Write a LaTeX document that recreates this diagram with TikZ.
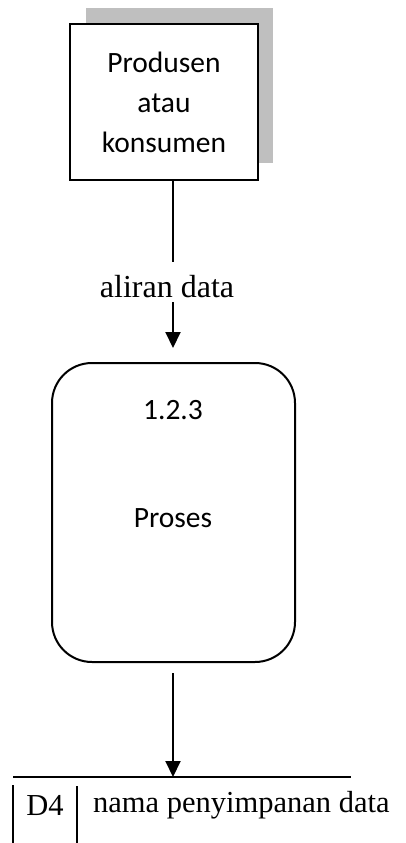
\documentclass[tikz,border=0pt]{standalone}
\usepackage{fontspec}
\setmainfont{Liberation Serif}
\newfontfamily\calib{Carlito}
\usetikzlibrary{arrows.meta}
\tikzset{
  ln/.style={line width=2pt},
  arr/.style={ln,-{Triangle[width=15pt,length=16pt]}},
  sanstext/.style={font=\calib\fontsize{29.5}{40}\selectfont, align=center},
  serftext/.style={font=\fontsize{32}{36}\selectfont, inner sep=0pt},
  storetext/.style={font=\fontsize{30.5}{36}\selectfont, inner sep=0pt},
}
\begin{document}
\begin{tikzpicture}[x=1pt,y=-1pt]
\useasboundingbox (0,0) rectangle (406,843);
% shadow
\node[fill=black!25, minimum width=187pt, minimum height=155pt, inner sep=0pt] (shadow) at (179.5,85.5) {};
% entity
\node[ln, draw, fill=white, minimum width=188pt, minimum height=156pt, inner sep=0pt, sanstext] (ent) at (164,102) {Produsen\\atau\\konsumen};
% flow label
\node[serftext] (lbl) at (167,287) {aliran data};
\coordinate (c1) at (173,262);
\coordinate (c2) at (173,302);
\coordinate (c3) at (173,348);
\draw[ln] (ent.south -| c1) -- (c1);
\draw[arr] (c2) -- (c3);
% process
\node[ln, draw, rounded corners=40pt, minimum width=243pt, minimum height=299pt, inner sep=0pt] (proc) at (173.5,512.5) {};
\node[sanstext] (pid) at (173,410) {1.2.3};
\node[sanstext] (pname) at (173,518) {Proses};
% store
\coordinate (c4) at (173,673);
\coordinate (sl) at (13,777);
\coordinate (sr) at (351,777);
\coordinate (st) at (173,777);
\draw[arr] (c4) -- (st);
\draw[ln] (sl) -- (sr);
\coordinate (b1t) at (13,785);
\coordinate (b1b) at (13,843);
\coordinate (b2t) at (77,786);
\coordinate (b2b) at (77,843);
\draw[ln] (b1t) -- (b1b);
\draw[ln] (b2t) -- (b2b);
\node[storetext] (sid) at (45,805) {D4};
\node[storetext, anchor=west] (sname) at (93,805) {nama penyimpanan data};
\end{tikzpicture}
\end{document}
